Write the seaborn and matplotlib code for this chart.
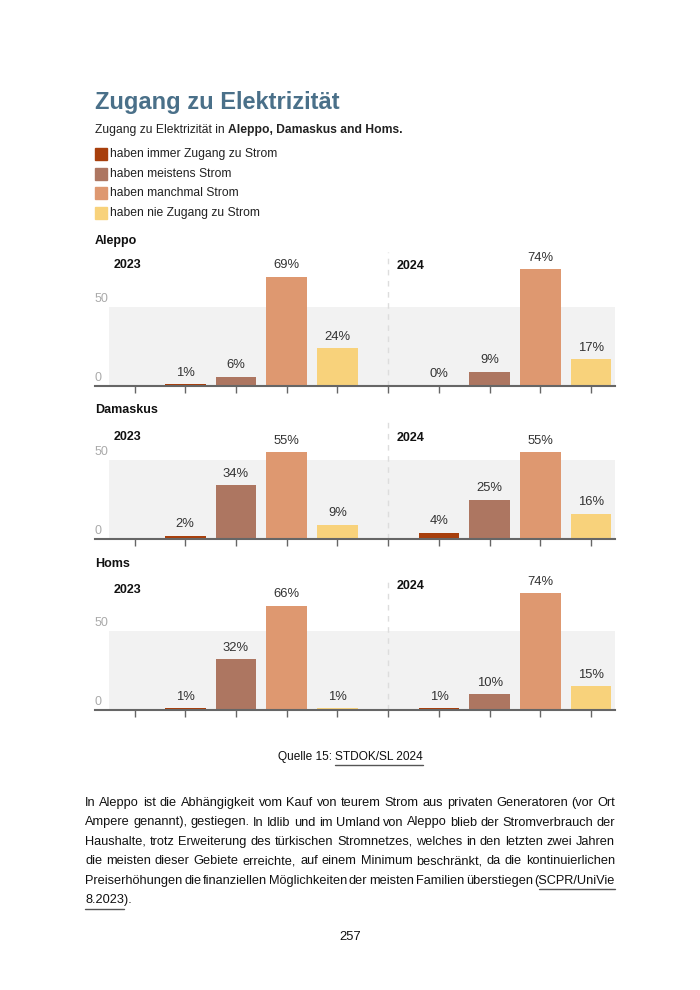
import pandas as pd
import matplotlib
matplotlib.use("Agg")
import matplotlib.pyplot as plt
from matplotlib.lines import Line2D
from matplotlib.patches import Rectangle
import seaborn as sns

# data
cities = ["Aleppo", "Damaskus", "Homs"]
years = ["2023", "2024"]
categories = ["haben immer Zugang zu Strom", "haben meistens Strom",
              "haben manchmal Strom", "haben nie Zugang zu Strom"]
colors = ["#a83f0c", "#ad7661", "#de9870", "#f8d27b"]
values = {
    "Aleppo":   {"2023": [1, 6, 69, 24], "2024": [0, 9, 74, 17]},
    "Damaskus": {"2023": [2, 34, 55, 9], "2024": [4, 25, 55, 16]},
    "Homs":     {"2023": [1, 32, 66, 1], "2024": [1, 10, 74, 15]},
}
ytick_vals = [0, 50]

W, H = 700, 990
sns.set_style("white")
plt.rcParams["font.family"] = ["Liberation Sans", "DejaVu Sans"]
fig = plt.figure(figsize=(7, 9.9), dpi=100)
renderer = fig.canvas.get_renderer()

def fx(px):
    return px / W

def fy(py):
    return 1 - py / H

def width_of(s, **kw):
    t = fig.text(0, 0, s, **kw)
    w = t.get_window_extent(renderer).width
    t.remove()
    return w

# heading + legend
fig.text(fx(95), fy(102), "Zugang zu Elektrizität", fontsize=17, fontweight="bold",
         color="#4a7089", va="center")
fs_sub = 8.7
sub1 = "Zugang zu Elektrizität in "
fig.text(fx(95), fy(130), sub1, fontsize=fs_sub, color="#222222", va="center")
fig.text(fx(95 + width_of(sub1, fontsize=fs_sub)), fy(130), "Aleppo, Damaskus and Homs.",
         fontsize=fs_sub, fontweight="bold", color="#222222", va="center")
for i, (cat, c) in enumerate(zip(categories, colors)):
    yc = 154 + i * 19.6
    fig.patches.append(Rectangle((fx(95), fy(yc + 6)), 12 / W, 12 / H, color=c,
                                 transform=fig.transFigure, figure=fig))
    fig.text(fx(110), fy(yc), cat, fontsize=8.7, color="#222222", va="center")

# panels: (baseline px, ylim top, title px, year label px)
panels = {
    "Aleppo":   (386, 85, 241, (265, 266)),
    "Damaskus": (539, 75, 410, (437, 438)),
    "Homs":     (710, 83, 564, (590, 586)),
}
ppu = 1.58  # px per percent

for city in cities:
    base, ytop, ttl, ylab = panels[city]
    rows = []
    for j, yr in enumerate(years):
        for i, cat in enumerate(categories):
            rows.append({"pos": 1 + i + j * 5, "value": values[city][yr][i], "category": cat})
    df = pd.DataFrame(rows)
    hpx = ytop * ppu
    ax = fig.add_axes([fx(95), fy(base), 520 / W, hpx / H])
    ax.axhspan(0, 50, xmin=14 / 520, xmax=1, color="#f2f2f2", zorder=0, lw=0)
    sns.barplot(data=df, x="pos", y="value", hue="category", hue_order=categories,
                palette=colors, saturation=1, native_scale=True, dodge=False, width=0.8,
                legend=False, ax=ax, linewidth=0, zorder=2)
    for cont in ax.containers:
        ax.bar_label(cont, fmt="{:.0f}%", padding=4, fontsize=9.4, color="#333333")
    ax.set_xlim(-0.78, 9.47)
    ax.set_ylim(0, ytop)
    ax.axvline(5, color="#dddddd", ls=(0, (4, 4)), lw=1, zorder=1)
    ax.set_xticks(range(10))
    ax.set_xticklabels([])
    ax.set_yticks([])
    ax.set_xlabel("")
    ax.set_ylabel("")
    ax.tick_params(axis="x", length=5, width=1, color="#666666", bottom=True, pad=0)
    for s in ["top", "left", "right"]:
        ax.spines[s].set_visible(False)
    ax.spines["bottom"].set_color("#666666")
    ax.spines["bottom"].set_linewidth(1.5)
    for v in ytick_vals:
        ax.text(-0.78, v + 1.5, str(v), fontsize=9, color="#aaaaaa", va="bottom", ha="left")
    ax.patch.set_alpha(0)
    fig.text(fx(95), fy(ttl), city, fontsize=9, fontweight="bold", color="#111111", va="center")
    fig.text(fx(114), fy(ylab[0]), years[0], fontsize=9, fontweight="bold", color="#111111", va="center")
    fig.text(fx(397), fy(ylab[1]), years[1], fontsize=9, fontweight="bold", color="#111111", va="center")

def underline(x0, x1, yc):
    fig.lines.append(Line2D([fx(x0), fx(x1)], [fy(yc + 8), fy(yc + 8)], color="#555555",
                            lw=1, transform=fig.transFigure, figure=fig))

# caption
fs_cap = 8.6
c1, c2 = "Quelle 15: ", "STDOK/SL 2024"
w1, w2 = width_of(c1, fontsize=fs_cap), width_of(c2, fontsize=fs_cap)
xs = 350 - (w1 + w2) / 2
fig.text(fx(xs), fy(757), c1, fontsize=fs_cap, color="#111111", va="center")
fig.text(fx(xs + w1), fy(757), c2, fontsize=fs_cap, color="#111111", va="center")
underline(xs + w1, xs + w1 + w2, 757)

# body text, justified
fs = 9.2
lines = [
    "In Aleppo ist die Abhängigkeit vom Kauf von teurem Strom aus privaten Generatoren (vor Ort",
    "Ampere genannt), gestiegen. In Idlib und im Umland von Aleppo blieb der Stromverbrauch der",
    "Haushalte, trotz Erweiterung des türkischen Stromnetzes, welches in den letzten zwei Jahren",
    "die meisten dieser Gebiete erreichte, auf einem Minimum beschränkt, da die kontinuierlichen",
    "Preiserhöhungen die finanziellen Möglichkeiten der meisten Familien überstiegen (SCPR/UniVie",
    "8.2023).",
]
x0, x1 = 85, 615
sp = width_of("a a", fontsize=fs) - width_of("aa", fontsize=fs)
for k, line in enumerate(lines):
    yc = 803 + k * 19.5
    words = line.split(" ")
    widths = [width_of(w, fontsize=fs) for w in words]
    last = k == len(lines) - 1
    gap = sp if last else (x1 - x0 - sum(widths)) / (len(words) - 1)
    x = x0
    for w, ww in zip(words, widths):
        fig.text(fx(x), fy(yc), w, fontsize=fs, color="#111111", va="center")
        if w.startswith("(SCPR"):
            underline(x + width_of("(", fontsize=fs), x + ww, yc)
        if w.startswith("8.2023"):
            underline(x, x + width_of("8.2023", fontsize=fs), yc)
        x += ww + gap

fig.text(fx(350), fy(937), "257", fontsize=9.4, color="#111111", va="center", ha="center")

fig.savefig("out.png", dpi=100)
